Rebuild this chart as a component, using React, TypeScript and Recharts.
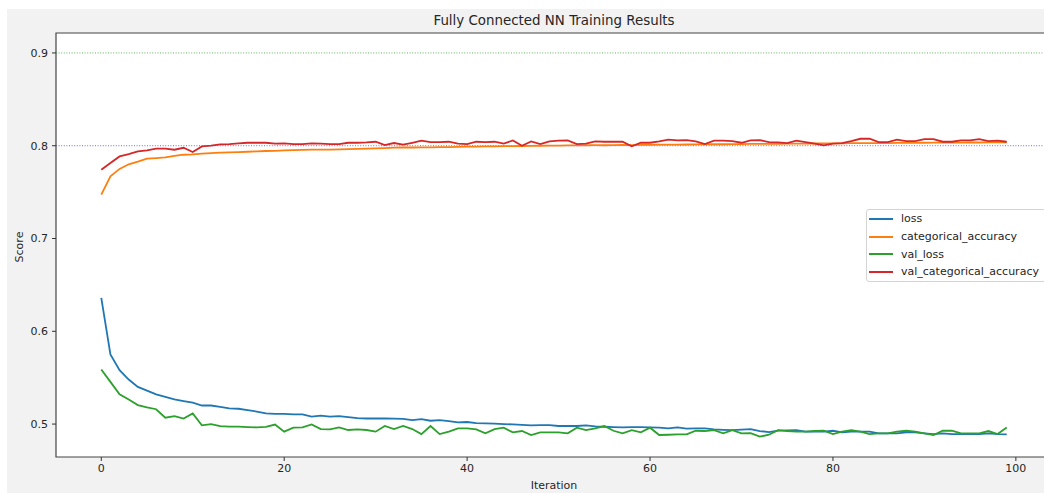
import React from "react";
import {
  LineChart,
  Line,
  XAxis,
  YAxis,
  CartesianGrid,
  ReferenceLine,
  ReferenceArea,
  Legend,
} from "recharts";

// per-epoch training history (100 iterations)
const loss = [
  0.636, 0.575, 0.558, 0.548, 0.54, 0.536, 0.532, 0.5294, 0.5265, 0.5247,
  0.523, 0.52, 0.52, 0.5186, 0.517, 0.5165, 0.515, 0.5135, 0.5115, 0.511,
  0.511, 0.5105, 0.5105, 0.508, 0.509, 0.508, 0.5085, 0.5075, 0.5065, 0.506,
  0.506, 0.506, 0.5058, 0.5057, 0.5043, 0.5054, 0.5036, 0.5043, 0.5032, 0.5018,
  0.5022, 0.5011, 0.5008, 0.5004, 0.5, 0.4996, 0.4992, 0.4986, 0.4988, 0.4989,
  0.4979, 0.4979, 0.4979, 0.4986, 0.4975, 0.4971, 0.4968, 0.4965, 0.4966, 0.4968,
  0.4964, 0.4961, 0.4953, 0.4965, 0.495, 0.4953, 0.4953, 0.4943, 0.4938, 0.4935,
  0.494, 0.4945, 0.4925, 0.4914, 0.493, 0.4932, 0.4935, 0.4918, 0.4918, 0.4918,
  0.4928, 0.491, 0.4918, 0.4918, 0.4918, 0.49, 0.49, 0.49, 0.491, 0.491,
  0.49, 0.4892, 0.49, 0.4892, 0.4892, 0.4892, 0.4892, 0.49, 0.4892, 0.4889,
];

const categoricalAccuracy = [
  0.7473, 0.767, 0.775, 0.78, 0.7828, 0.786, 0.7867, 0.7875, 0.789, 0.7903,
  0.7907, 0.7914, 0.7921, 0.7925, 0.7928, 0.7932, 0.7935, 0.7939, 0.7943, 0.7945,
  0.795, 0.7953, 0.7955, 0.7957, 0.7957, 0.7958, 0.796, 0.7964, 0.7966, 0.7968,
  0.7971, 0.7975, 0.798, 0.7982, 0.7981, 0.7983, 0.7982, 0.7985, 0.7986, 0.7988,
  0.799, 0.7991, 0.7993, 0.7994, 0.7995, 0.7996, 0.7997, 0.7999, 0.8, 0.8001,
  0.8002, 0.8003, 0.8003, 0.8005, 0.8006, 0.8005, 0.8007, 0.8008, 0.8007, 0.8009,
  0.801, 0.8011, 0.8012, 0.8012, 0.8013, 0.8014, 0.8015, 0.8016, 0.8016, 0.8017,
  0.8018, 0.8019, 0.802, 0.802, 0.8021, 0.8022, 0.8023, 0.8023, 0.8024, 0.8024,
  0.8025, 0.8026, 0.8027, 0.8027, 0.8028, 0.8029, 0.8029, 0.803, 0.8031, 0.8031,
  0.8032, 0.8033, 0.8033, 0.8034, 0.8034, 0.8035, 0.8035, 0.8036, 0.8036, 0.8037,
];

const valLoss = [
  0.5588, 0.5455, 0.532, 0.5265, 0.5204, 0.518, 0.516, 0.5068, 0.5086, 0.506,
  0.5115, 0.4986, 0.5, 0.4978, 0.4972, 0.4972, 0.4968, 0.4965, 0.497, 0.4995,
  0.4918, 0.4961, 0.4965, 0.4996, 0.4946, 0.4943, 0.4965, 0.4936, 0.4943, 0.4936,
  0.4918, 0.4979, 0.4946, 0.4979, 0.4946, 0.4892, 0.4979, 0.4892, 0.4918, 0.4953,
  0.4953, 0.4943, 0.49, 0.4946, 0.4961, 0.491, 0.4925, 0.4882, 0.491, 0.491,
  0.491, 0.49, 0.4961, 0.4935, 0.4953, 0.4979, 0.4928, 0.49, 0.4935, 0.491,
  0.4961, 0.4882, 0.4885, 0.4889, 0.4889, 0.4928, 0.4925, 0.4935, 0.49, 0.4935,
  0.49, 0.4903, 0.4864, 0.4885, 0.4935, 0.4925, 0.4918, 0.4918, 0.4925, 0.4928,
  0.4892, 0.4918, 0.4935, 0.4918, 0.4892, 0.49, 0.49, 0.4918, 0.4928, 0.4918,
  0.49, 0.4882, 0.4928, 0.4928, 0.49, 0.49, 0.49, 0.4925, 0.4892, 0.4964,
];

const valCategoricalAccuracy = [
  0.7742, 0.7814, 0.7885, 0.791, 0.7939, 0.795, 0.7968, 0.7968, 0.7957, 0.7978,
  0.7932, 0.7993, 0.8, 0.8014, 0.8018, 0.8025, 0.8032, 0.8032, 0.8032, 0.8022,
  0.8025, 0.8018, 0.8018, 0.8025, 0.8022, 0.8018, 0.8018, 0.8032, 0.8032, 0.8036,
  0.8043, 0.8007, 0.8029, 0.8011, 0.8032, 0.8054, 0.8039, 0.8039, 0.8043, 0.8022,
  0.8018, 0.8043, 0.8039, 0.8043, 0.8022, 0.8057, 0.8, 0.8047, 0.8018, 0.8047,
  0.8054, 0.8057, 0.8018, 0.8022, 0.8047, 0.8043, 0.8043, 0.8043, 0.7993, 0.8032,
  0.8032, 0.8047, 0.8065, 0.8057, 0.8061, 0.8047, 0.8018, 0.8054, 0.8054, 0.805,
  0.8032, 0.8057, 0.8061, 0.8039, 0.8036, 0.8029, 0.8054, 0.8039, 0.8022, 0.8004,
  0.8022, 0.8029, 0.805, 0.8075, 0.8075, 0.8039, 0.8039, 0.8065, 0.805, 0.805,
  0.8072, 0.8072, 0.8043, 0.8043, 0.8057, 0.8057, 0.8072, 0.805, 0.8054, 0.8043,
];

const xTicks = [0, 20, 40, 60, 80, 100];
const yTicks = [0.5, 0.6, 0.7, 0.8, 0.9];
const targetScores = [0.9, 0.8];

// axis limits with matplotlib-style 5% padding
const xDomain: [number, number] = [-4.95, 103.95];
const yDomain: [number, number] = [0.4645, 0.9215];

const data = loss.map((v, i) => ({
  iteration: i,
  loss: v,
  categorical_accuracy: categoricalAccuracy[i],
  val_loss: valLoss[i],
  val_categorical_accuracy: valCategoricalAccuracy[i],
}));

const FONT = "'DejaVu Sans', sans-serif";
const TEXT = "#262626";
const targetColors = ["#2ca02c", "#3535ff"];

const series = [
  { key: "loss", color: "#1f77b4" },
  { key: "categorical_accuracy", color: "#ff7f0e" },
  { key: "val_loss", color: "#2ca02c" },
  { key: "val_categorical_accuracy", color: "#d62728" },
];

// legend keeps the plotting order instead of sorting by name
const renderLegend = ({ payload }: any) => {
  const items = series
    .map((s) => (payload || []).find((p: any) => p.dataKey === s.key))
    .filter(Boolean);
  return (
    <div
      style={{
        background: "rgba(255,255,255,0.85)",
        border: "1px solid #d4d4d4",
        borderRadius: 3,
        padding: "0 6px 0 2px",
        fontFamily: FONT,
        fontSize: 11,
        color: TEXT,
      }}
    >
      {items.map((entry: any) => (
        <div
          key={entry.value}
          style={{ display: "flex", alignItems: "center", height: 17.7 }}
        >
          <span
            style={{
              display: "inline-block",
              width: 24,
              borderTop: `2px solid ${entry.color}`,
              marginRight: 8,
            }}
          />
          <span>{entry.value}</span>
        </div>
      ))}
    </div>
  );
};

export default function App() {
  return (
    <div
      style={{
        position: "absolute",
        left: 0,
        top: 0,
        width: 1044,
        height: 493,
        overflow: "hidden",
        background: "#fff",
      }}
    >
      <div
        style={{
          position: "absolute",
          left: 7,
          top: 9,
          right: 0,
          bottom: 0,
          background: "#f2f2f2",
        }}
      />
      <div
        style={{
          position: "absolute",
          left: 0,
          width: 1108,
          top: 13,
          textAlign: "center",
          fontFamily: FONT,
          fontSize: 13.4,
          color: TEXT,
        }}
      >
        Fully Connected NN Training Results
      </div>
      <div style={{ position: "absolute", left: 0, top: 0 }}>
        <LineChart
          width={1060}
          height={493}
          data={data}
          margin={{ top: 33, right: 8, bottom: 0, left: 0 }}
        >
          <CartesianGrid horizontal={false} vertical={false} fill="#fff" />
          <XAxis
            dataKey="iteration"
            type="number"
            domain={xDomain}
            ticks={xTicks}
            allowDataOverflow
            height={36}
            axisLine={false}
            tickSize={4}
            tickMargin={3}
            tickLine={{ stroke: "#333" }}
            tick={{ fontSize: 11, fill: TEXT, fontFamily: FONT }}
            label={({ viewBox }: any) => (
              <text
                x={viewBox.x + viewBox.width / 2}
                y={viewBox.y + 32}
                textAnchor="middle"
                fontSize={11}
                fill={TEXT}
                fontFamily={FONT}
              >
                Iteration
              </text>
            )}
          />
          <YAxis
            type="number"
            domain={yDomain}
            ticks={yTicks}
            allowDataOverflow
            width={56}
            axisLine={false}
            tickSize={4}
            tickMargin={4}
            tickLine={{ stroke: "#333" }}
            tick={{ fontSize: 11, fill: TEXT, fontFamily: FONT }}
            label={({ viewBox }: any) => {
              const cx = 19;
              const cy = viewBox.y + viewBox.height / 2 + 2;
              return (
                <text
                  x={cx}
                  y={cy}
                  transform={`rotate(-90 ${cx} ${cy})`}
                  textAnchor="middle"
                  dominantBaseline="central"
                  fontSize={11}
                  fill={TEXT}
                  fontFamily={FONT}
                >
                  Score
                </text>
              );
            }}
          />
          {targetScores.map((v, i) => (
            <ReferenceLine
              key={v}
              y={v}
              stroke={targetColors[i]}
              strokeOpacity={0.75}
              strokeWidth={1}
              strokeDasharray="1 1.6"
            />
          ))}
          {series.map((s) => (
            <Line
              key={s.key}
              type="linear"
              dataKey={s.key}
              stroke={s.color}
              strokeWidth={1.8}
              dot={false}
              activeDot={false}
              isAnimationActive={false}
            />
          ))}
          <ReferenceArea
            x1={xDomain[0]}
            x2={xDomain[1]}
            y1={yDomain[0]}
            y2={yDomain[1]}
            fill="none"
            fillOpacity={0}
            stroke="#444"
            strokeWidth={1.2}
          />
          <Legend
            layout="vertical"
            align="center"
            verticalAlign="middle"
            content={renderLegend}
            wrapperStyle={{ left: 866, top: 209, width: "auto" }}
          />
        </LineChart>
      </div>
    </div>
  );
}
